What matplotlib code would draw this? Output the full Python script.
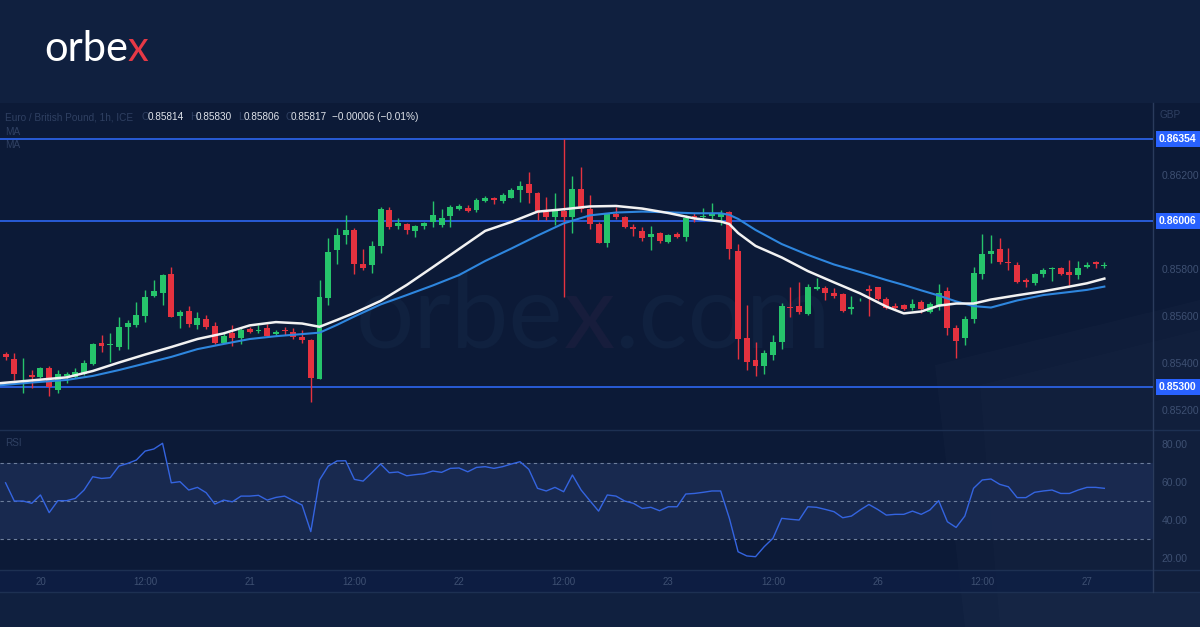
import matplotlib
matplotlib.use("Agg")
import matplotlib.pyplot as plt
import matplotlib.transforms as mtransforms
from matplotlib.patches import Rectangle, Polygon

W, H = 1200, 627

# hourly candles, index 0 = 20th 00:00
first_bar = -4
opens = [0.85438, 0.85419, 0.85353, 0.85350, 0.85343, 0.85378, 0.85286, 0.85347, 0.85343, 0.85354,
         0.85397, 0.85485, 0.85478, 0.85468, 0.85555, 0.85563, 0.85602, 0.85686, 0.85698, 0.85778,
         0.85602, 0.85622, 0.85563, 0.85587, 0.85560, 0.85487, 0.85527, 0.85506, 0.85546, 0.85536,
         0.85551, 0.85523, 0.85538, 0.85532, 0.85510, 0.85499, 0.85333, 0.85679, 0.85882, 0.85947,
         0.85967, 0.85822, 0.85817, 0.85899, 0.86052, 0.85985, 0.85991, 0.85964, 0.85985, 0.86002,
         0.85988, 0.86027, 0.86055, 0.86062, 0.86052, 0.86092, 0.86102, 0.86090, 0.86104, 0.86137,
         0.86161, 0.86123, 0.86045, 0.86021, 0.86048, 0.86021, 0.86140, 0.86055, 0.85992, 0.85913,
         0.86035, 0.86021, 0.85978, 0.85964, 0.85936, 0.85953, 0.85917, 0.85949, 0.85938, 0.86027,
         0.86021, 0.86027, 0.86023, 0.86045, 0.85879, 0.85506, 0.85414, 0.85388, 0.85435, 0.85492,
         0.85641, 0.85645, 0.85610, 0.85717, 0.85721, 0.85700, 0.85695, 0.85629, 0.85668, 0.85715,
         0.85723, 0.85673, 0.85645, 0.85648, 0.85634, 0.85661, 0.85620, 0.85648, 0.85707, 0.85551,
         0.85506, 0.85587, 0.85780, 0.85865, 0.85885, 0.85832, 0.85818, 0.85754, 0.85743, 0.85780,
         0.85800, 0.85804, 0.85789, 0.85776, 0.85808, 0.85832, 0.85814]
highs = [0.85449, 0.85445, 0.85422, 0.85371, 0.85385, 0.85388, 0.85371, 0.85364, 0.85378, 0.85414,
         0.85485, 0.85520, 0.85527, 0.85595, 0.85584, 0.85662, 0.85712, 0.85754, 0.85780, 0.85808,
         0.85626, 0.85644, 0.85619, 0.85605, 0.85577, 0.85527, 0.85563, 0.85549, 0.85555, 0.85563,
         0.85567, 0.85541, 0.85555, 0.85549, 0.85541, 0.85501, 0.85754, 0.85932, 0.85974, 0.86031,
         0.85974, 0.85886, 0.85921, 0.86066, 0.86063, 0.86017, 0.85998, 0.85988, 0.86002, 0.86090,
         0.86055, 0.86073, 0.86078, 0.86073, 0.86102, 0.86112, 0.86109, 0.86123, 0.86144, 0.86177,
         0.86212, 0.86130, 0.86109, 0.86123, 0.86354, 0.86197, 0.86234, 0.86116, 0.86001, 0.86038,
         0.86066, 0.86027, 0.85991, 0.85981, 0.85984, 0.85960, 0.85949, 0.85960, 0.86031, 0.86038,
         0.86059, 0.86083, 0.86052, 0.86048, 0.85907, 0.85648, 0.85492, 0.85456, 0.85520, 0.85655,
         0.85726, 0.85747, 0.85737, 0.85761, 0.85729, 0.85719, 0.85699, 0.85686, 0.85678, 0.85733,
         0.85726, 0.85683, 0.85658, 0.85652, 0.85672, 0.85669, 0.85662, 0.85736, 0.85726, 0.85563,
         0.85601, 0.85811, 0.85950, 0.85946, 0.85932, 0.85889, 0.85831, 0.85761, 0.85784, 0.85804,
         0.85808, 0.85808, 0.85839, 0.85836, 0.85832, 0.85836, 0.85830]
lows = [0.85414, 0.85329, 0.85275, 0.85295, 0.85336, 0.85261, 0.85275, 0.85315, 0.85336, 0.85350,
        0.85392, 0.85449, 0.85407, 0.85456, 0.85459, 0.85555, 0.85577, 0.85683, 0.85648, 0.85595,
        0.85549, 0.85555, 0.85544, 0.85544, 0.85482, 0.85485, 0.85473, 0.85482, 0.85527, 0.85527,
        0.85515, 0.85520, 0.85520, 0.85502, 0.85487, 0.85236, 0.85331, 0.85648, 0.85822, 0.85907,
        0.85780, 0.85797, 0.85783, 0.85868, 0.85970, 0.85970, 0.85950, 0.85936, 0.85970, 0.85981,
        0.85978, 0.85978, 0.86052, 0.86045, 0.86045, 0.86087, 0.86078, 0.86080, 0.86102, 0.86087,
        0.86083, 0.86009, 0.86009, 0.85988, 0.85682, 0.85953, 0.86045, 0.85970, 0.85910, 0.85896,
        0.86012, 0.85974, 0.85941, 0.85921, 0.85882, 0.85913, 0.85913, 0.85932, 0.85921, 0.86002,
        0.86009, 0.86012, 0.85988, 0.85842, 0.85417, 0.85371, 0.85346, 0.85354, 0.85414, 0.85459,
        0.85598, 0.85610, 0.85605, 0.85712, 0.85669, 0.85676, 0.85619, 0.85610, 0.85665, 0.85601,
        0.85669, 0.85629, 0.85626, 0.85626, 0.85626, 0.85615, 0.85615, 0.85626, 0.85518, 0.85421,
        0.85478, 0.85570, 0.85757, 0.85825, 0.85822, 0.85797, 0.85741, 0.85723, 0.85733, 0.85767,
        0.85748, 0.85776, 0.85733, 0.85757, 0.85804, 0.85804, 0.85806]
closes = [0.85425, 0.85353, 0.85354, 0.85340, 0.85378, 0.85298, 0.85353, 0.85354, 0.85364, 0.85400,
          0.85481, 0.85473, 0.85481, 0.85553, 0.85572, 0.85605, 0.85683, 0.85709, 0.85774, 0.85598,
          0.85617, 0.85566, 0.85591, 0.85553, 0.85487, 0.85516, 0.85506, 0.85541, 0.85534, 0.85541,
          0.85517, 0.85533, 0.85537, 0.85513, 0.85498, 0.85336, 0.85683, 0.85875, 0.85946, 0.85967,
          0.85821, 0.85806, 0.85900, 0.86055, 0.85981, 0.85998, 0.85967, 0.85984, 0.85995, 0.86031,
          0.86017, 0.86063, 0.86069, 0.86048, 0.86095, 0.86103, 0.86095, 0.86115, 0.86137, 0.86154,
          0.86123, 0.86038, 0.86021, 0.86048, 0.86021, 0.86140, 0.86055, 0.85992, 0.85913, 0.86035,
          0.86021, 0.85981, 0.85970, 0.85932, 0.85949, 0.85921, 0.85946, 0.85938, 0.86017, 0.86017,
          0.86027, 0.86035, 0.86035, 0.85885, 0.85502, 0.85407, 0.85388, 0.85442, 0.85492, 0.85645,
          0.85634, 0.85617, 0.85726, 0.85723, 0.85698, 0.85686, 0.85623, 0.85638, 0.85670, 0.85709,
          0.85673, 0.85634, 0.85634, 0.85629, 0.85652, 0.85629, 0.85652, 0.85697, 0.85551, 0.85496,
          0.85587, 0.85783, 0.85865, 0.85876, 0.85829, 0.85825, 0.85744, 0.85744, 0.85778, 0.85797,
          0.85804, 0.85780, 0.85776, 0.85804, 0.85818, 0.85822, 0.85817]

# moving averages (bar index, price)
ma_x = [-5, -1, 3, 6, 9, 12, 15, 18, 21, 24, 27, 30, 32, 34, 36, 39, 42, 45, 48, 51, 54, 57,
        60, 63, 66, 69, 72, 75, 78, 79, 80, 82, 85, 88, 91, 94, 97, 99, 101, 103, 105, 107,
        109, 112, 115, 118, 120, 122]
ma_fast = [0.85314, 0.85327, 0.85340, 0.85367, 0.85403, 0.85437, 0.85469, 0.85503, 0.85527, 0.85561,
           0.85575, 0.85569, 0.85555, 0.85584, 0.85614, 0.85665, 0.85733, 0.85809, 0.85886, 0.85963,
           0.86001, 0.86045, 0.86055, 0.86067, 0.86069, 0.86058, 0.86039, 0.86016, 0.86003, 0.85992,
           0.85954, 0.85899, 0.85850, 0.85792, 0.85744, 0.85697, 0.85641, 0.85612, 0.85620, 0.85645,
           0.85654, 0.85654, 0.85671, 0.85689, 0.85706, 0.85726, 0.85740, 0.85760]
ma_slow = [0.85305, 0.85318, 0.85329, 0.85346, 0.85371, 0.85399, 0.85427, 0.85460, 0.85482, 0.85503,
           0.85515, 0.85524, 0.85530, 0.85563, 0.85599, 0.85650, 0.85690, 0.85731, 0.85775, 0.85835,
           0.85888, 0.85943, 0.85995, 0.86029, 0.86041, 0.86045, 0.86042, 0.86038, 0.86038, 0.86031,
           0.86014, 0.85967, 0.85907, 0.85861, 0.85820, 0.85788, 0.85754, 0.85733, 0.85710, 0.85688,
           0.85663, 0.85643, 0.85637, 0.85667, 0.85690, 0.85703, 0.85712, 0.85726]

rsi = [59.6, 50.0, 50.0, 48.8, 53.2, 43.9, 50.2, 50.2, 51.4, 55.8,
       62.8, 61.9, 62.3, 68.4, 69.8, 71.6, 76.3, 77.4, 80.4, 59.6,
       60.2, 55.8, 57.2, 54.4, 48.4, 50.5, 49.6, 52.6, 52.6, 53.0,
       50.5, 51.9, 52.6, 50.2, 47.9, 33.9, 61.1, 68.4, 71.1, 71.2,
       61.4, 60.5, 64.9, 69.5, 64.9, 65.3, 63.3, 63.9, 64.4, 65.8,
       65.1, 67.2, 67.4, 65.4, 67.7, 68.1, 67.2, 68.1, 69.5, 70.7,
       66.7, 56.7, 55.3, 57.2, 54.9, 63.7, 55.8, 50.2, 44.7, 53.2,
       52.6, 50.0, 48.8, 46.1, 46.7, 44.9, 47.0, 47.0, 53.7, 54.0,
       54.6, 55.3, 55.3, 40.9, 23.3, 21.1, 20.7, 26.0, 30.4, 40.9,
       40.4, 40.0, 47.0, 46.7, 45.6, 44.4, 41.2, 42.1, 45.3, 48.2,
       45.6, 42.6, 43.0, 43.0, 44.7, 43.0, 45.3, 50.2, 39.1, 36.1,
       42.1, 56.7, 61.1, 61.6, 58.8, 57.5, 51.8, 51.8, 54.6, 55.3,
       55.8, 54.0, 54.0, 55.8, 57.2, 57.2, 56.7]

levels = [0.86354, 0.86006, 0.85300]
price_ticks = [0.852, 0.854, 0.856, 0.858, 0.862]
rsi_ticks = [20, 40, 60, 80]
time_ticks = [0, 12, 24, 36, 48, 60, 72, 84, 96, 108, 120]
time_labels = ["20", "12:00", "21", "12:00", "22", "12:00", "23", "12:00", "26", "12:00", "27"]

BG_TOP = "#10203f"
BG_CHART = "#0c1a37"
GREEN = "#26c46b"
RED = "#e5323f"
LEVEL = "#2d66f0"
GRAY = "#3e5072"
DIM = "#2f4062"
LABEL_FONT = "Liberation Sans"


def fx(px):
    return px / W


def fy(py):
    return 1 - py / H


def text_run(parts, x0, y0, **kw):
    # lay out several coloured strings one after another (pixel coords)
    x = x0
    for s, c in parts:
        t = fig.text(fx(x), fy(y0), s, color=c, **kw)
        fig.canvas.draw()
        x = t.get_window_extent().x1
    return x


fig = plt.figure(figsize=(12, 6.27), dpi=100)
fig.patch.set_facecolor(BG_TOP)

# chart panel background, faint decorative panels and separators
fig.patches.append(Rectangle((0, fy(592)), 1, fy(103) - fy(592), transform=fig.transFigure,
                             facecolor=BG_CHART, edgecolor="none", zorder=-10))
fig.patches.append(Polygon([(fx(935), fy(365)), (1, fy(300)), (1, 0), (fx(965), 0)],
                           closed=True, transform=fig.transFigure, facecolor="white",
                           alpha=0.014, edgecolor="none", zorder=-9))
fig.patches.append(Polygon([(fx(980), fy(385)), (1, fy(330)), (1, 0), (fx(1000), 0)],
                           closed=True, transform=fig.transFigure, facecolor="white",
                           alpha=0.01, edgecolor="none", zorder=-9))
fig.patches.append(Rectangle((0, fy(592)), fx(1153), fy(570) - fy(592), transform=fig.transFigure,
                             facecolor="#0e1f45", alpha=0.8, edgecolor="none", zorder=-8))
for yy in (430, 570, 592):
    fig.lines.append(plt.Line2D([0, 1], [fy(yy), fy(yy)], transform=fig.transFigure,
                                color="#1d3052", lw=1, zorder=-5))
fig.lines.append(plt.Line2D([fx(1153), fx(1153)], [fy(592), fy(103)], transform=fig.transFigure,
                            color="#2a3b5c", lw=1, zorder=-5))

ax = fig.add_axes([0, fy(430), fx(1153), fy(103) - fy(430)])
rax = fig.add_axes([0, fy(570), fx(1153), fy(430) - fy(570)], sharex=ax)
for a in (ax, rax):
    a.set_facecolor("none")
    for s in a.spines.values():
        s.set_visible(False)

xs = list(range(first_bar, first_bar + len(opens)))
ax.set_xlim(-4.64, 127.58)
ax.set_ylim(0.85116, 0.86507)

# watermark
text_run([("orbe", "#10213f"), ("x", "#171d3c"), (".com", "#10213f")], 356, 348,
         fontsize=74, family="Lato", va="baseline", zorder=-6)

# candles
cols = [GREEN if c >= o else RED for o, c in zip(opens, closes)]
ax.vlines(xs, lows, highs, colors=cols, lw=1, zorder=3)
bottoms = [min(o, c) for o, c in zip(opens, closes)]
heights = [max(abs(c - o), 0.00003) for o, c in zip(opens, closes)]
ax.bar(xs, heights, bottom=bottoms, width=0.68, color=cols, linewidth=0, zorder=4)

ax.plot(ma_x, ma_slow, color="#2e86de", lw=1.5, zorder=5)
ax.plot(ma_x, ma_fast, color="#f2f2f2", lw=1.8, zorder=6)

for lv in levels:
    ax.axhline(lv, color=LEVEL, lw=1.2, zorder=2)

ax.yaxis.tick_right()
ax.set_yticks(price_ticks)
ax.set_yticklabels([f"{t:.5f}" for t in price_ticks], family=LABEL_FONT)
ax.tick_params(axis="y", length=0, pad=6, labelsize=7.5, labelcolor=GRAY)
ax.tick_params(axis="x", length=0, labelbottom=False)

tr = mtransforms.blended_transform_factory(ax.transAxes, ax.transData)
for lv in levels:
    ax.text(1.0052, lv, f"{lv:.5f}", transform=tr, ha="left", va="center", fontsize=7.5,
            family=LABEL_FONT, fontweight="bold", color="white", clip_on=False, zorder=10,
            bbox=dict(boxstyle="square,pad=0.28", facecolor="#2962ff", edgecolor="none"))

# RSI pane
rax.set_ylim(13.7, 87.4)
rax.axhspan(30, 70, color="#1a2b52", alpha=0.9, lw=0, zorder=1)
for lv in (70, 50, 30):
    rax.axhline(lv, color="#6d7e9c", lw=0.8, ls=(0, (3, 3)), zorder=2)
rax.plot(xs, rsi, color="#3464e0", lw=1.0, zorder=3)
rax.yaxis.tick_right()
rax.set_yticks(rsi_ticks)
rax.set_yticklabels([f"{t:.2f}" for t in rsi_ticks], family=LABEL_FONT)
rax.tick_params(axis="y", length=0, pad=6, labelsize=7.5, labelcolor=GRAY)
rax.set_xticks(time_ticks)
rax.set_xticklabels(time_labels, family=LABEL_FONT)
rax.tick_params(axis="x", length=0, pad=5, labelsize=7, labelcolor=GRAY)

# header texts
hdr = dict(fontsize=7.2, family=LABEL_FONT, va="center")
fig.text(fx(5), fy(117), "Euro / British Pound, 1h, ICE", color=DIM, **hdr)
vals = [("O", "0.85814", 142), ("H", "0.85830", 190), ("L", "0.85806", 238), ("C", "0.85817", 285)]
for lab, v, px in vals:
    fig.text(fx(px), fy(117), lab, color=DIM, **hdr)
    fig.text(fx(px + 6), fy(117), v, color="#dfe3ea", **hdr)
fig.text(fx(332), fy(117), "\u22120.00006 (\u22120.01%)", color="#dfe3ea", **hdr)
fig.text(fx(5), fy(132), "MA", color=DIM, **hdr)
fig.text(fx(5), fy(145), "MA", color=DIM, **hdr)
fig.text(fx(1160), fy(115), "GBP", color=DIM, **hdr)
fig.text(fx(5), fy(443), "RSI", color=DIM, **hdr)

# logo
text_run([("orbe", "white"), ("x", "#e63946")], 44, 61, fontsize=30, family="Lato", va="baseline")

fig.savefig("out.png", dpi=100, facecolor=fig.get_facecolor())
